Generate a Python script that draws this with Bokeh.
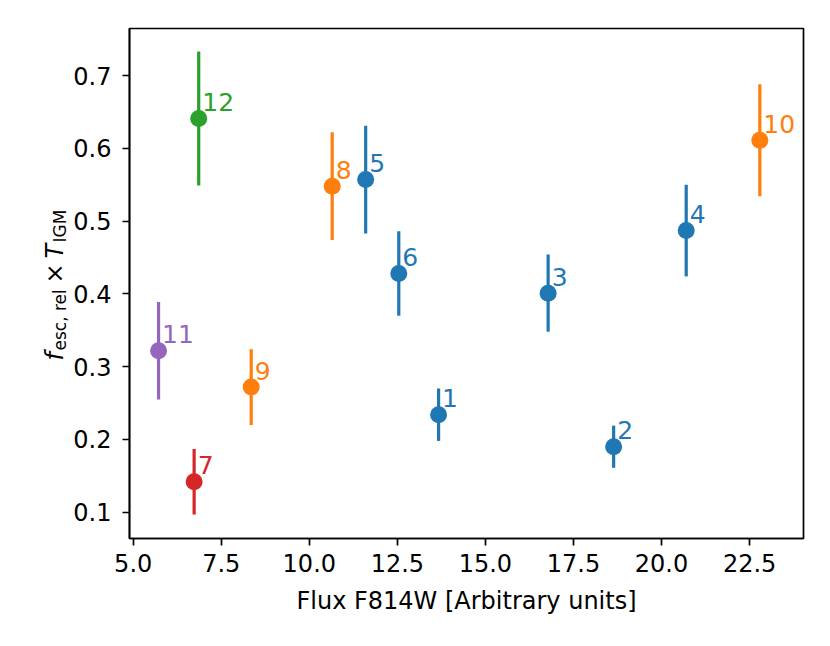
import math
from bokeh.plotting import figure
from bokeh.layouts import row
from bokeh.models import ColumnDataSource, Range1d, FixedTicker, PrintfTickFormatter
from bokeh.core.properties import value
from bokeh.embed import file_html
from bokeh.resources import INLINE

# ---- data ----
ids = ["1", "2", "3", "4", "5", "6", "7", "8", "9", "10", "11", "12"]
flux = [13.67, 18.64, 16.78, 20.70, 11.60, 12.54, 6.73, 10.65, 8.35, 22.79, 5.72, 6.86]
fesc = [0.234, 0.190, 0.401, 0.487, 0.557, 0.428, 0.142, 0.548, 0.272, 0.611, 0.322, 0.641]
err = [0.036, 0.029, 0.053, 0.063, 0.074, 0.058, 0.045, 0.074, 0.052, 0.077, 0.067, 0.092]
colors = ["#1f77b4"] * 6 + ["#d62728", "#ff7f0e", "#ff7f0e", "#ff7f0e", "#9467bd", "#2ca02c"]

x_ticks = [5.0, 7.5, 10.0, 12.5, 15.0, 17.5, 20.0, 22.5]
y_ticks = [0.1, 0.2, 0.3, 0.4, 0.5, 0.6, 0.7]

src = ColumnDataSource(dict(
    x=flux, y=fesc,
    lo=[v - e for v, e in zip(fesc, err)],
    hi=[v + e for v, e in zip(fesc, err)],
    tx=[v + 0.1 for v in flux],
    ty=[v + 0.01 for v in fesc],
    label=ids, color=colors,
))

FONT = "DejaVu Sans"
H = 630
LW = 70
TOP, BOTTOM = 28, 92

p = figure(width=814 - LW, height=H, output_backend="svg", toolbar_location=None,
           x_range=Range1d(4.895, 24.03), y_range=Range1d(0.0639, 0.7646))
p.min_border_left = 129 - LW
p.min_border_right = 11
p.min_border_top = TOP
p.min_border_bottom = BOTTOM
p.background_fill_color = "white"
p.border_fill_color = "white"
p.grid.visible = False
p.outline_line_color = "black"
p.outline_line_width = 1.7
p.outline_line_alpha = 1.0

for ax in (p.xaxis[0], p.yaxis[0]):
    ax.axis_line_color = "black"
    ax.axis_line_width = 1.7
    ax.major_tick_line_color = "black"
    ax.major_tick_line_width = 1.7
    ax.major_tick_out = 7
    ax.major_tick_in = 0
    ax.minor_tick_line_color = None
    ax.major_label_text_font = FONT
    ax.major_label_text_font_size = "24px"
    ax.major_label_text_color = "black"
    ax.axis_label_text_font = FONT
    ax.axis_label_text_font_size = "24px"
    ax.axis_label_text_font_style = "normal"
    ax.axis_label_text_color = "black"

p.yaxis.major_label_standoff = 11
p.xaxis.major_label_standoff = 8
p.xaxis.ticker = FixedTicker(ticks=x_ticks)
p.yaxis.ticker = FixedTicker(ticks=y_ticks)
p.xaxis.formatter = PrintfTickFormatter(format="%.1f")
p.yaxis.formatter = PrintfTickFormatter(format="%.1f")
p.xaxis.axis_label = "Flux F814W [Arbitrary units]"
p.xaxis.axis_label_standoff = 12

# error bars, markers, labels
p.segment(x0="x", y0="lo", x1="x", y1="hi", source=src, line_color="color", line_width=3.2)
p.scatter(x="x", y="y", source=src, size=17, fill_color="color", line_color="color", line_width=0)
p.text(x="tx", y="ty", text="label", source=src, text_color="color",
       text_font=value(FONT), text_font_size="25px", y_offset=-9,
       text_align="left", text_baseline="alphabetic")

# y-axis label strip (mathtext-like: italic f, T with upright subscripts)
FH = H - TOP - BOTTOM  # frame height, aligned with the main plot frame
lab = figure(width=LW, height=H, output_backend="svg", toolbar_location=None,
             x_range=Range1d(0, LW), y_range=Range1d(0, FH),
             x_axis_type=None, y_axis_type=None, title=None)
lab.min_border_left = 0
lab.min_border_right = 0
lab.min_border_top = TOP
lab.min_border_bottom = BOTTOM
lab.outline_line_color = None
lab.grid.visible = False
lab.background_fill_color = "white"
lab.border_fill_color = "white"

def fy(sy):
    return (H - BOTTOM) - sy

main_x = 54
sub_x = 59
pieces = [
    ("f", main_x, fy(360), "24px", "italic"),
    ("esc, rel", sub_x, fy(350), "17px", "normal"),
    ("\u00d7", main_x, fy(283), "24px", "normal"),
    ("T", main_x, fy(258), "24px", "italic"),
    ("IGM", sub_x, fy(242), "17px", "normal"),
]
for txt, xx, yy, fs, st in pieces:
    lab.text(x=[xx], y=[yy], text=[txt], angle=math.pi / 2,
             text_font=value(FONT), text_font_size=fs, text_font_style=st,
             text_color="black", text_align="left", text_baseline="alphabetic")

layout = row(lab, p)
open("out.html", "w").write(file_html(layout, INLINE))
